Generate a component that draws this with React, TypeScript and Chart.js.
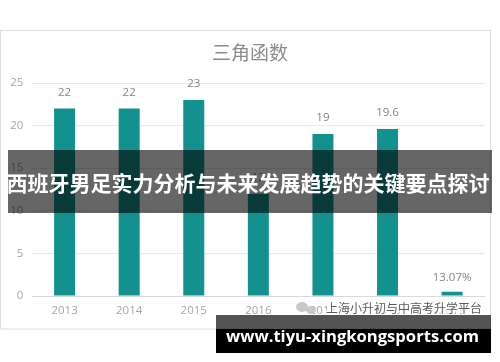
import React, { useEffect, useRef } from "react";
import { Chart, registerables } from "chart.js";

Chart.register(...registerables);

const categories = ["2013", "2014", "2015", "2016", "2017", "2018", "2019"];
const values = [22, 22, 23, 12, 19, 19.6, 0.5];
const valueLabels = ["22", "22", "23", "12", "19", "19.6", "13.07%"];
const yTicks = [0, 5, 10, 15, 20, 25];
const chartTitle = "三角函数";
const bannerText = "西班牙男足实力分析与未来发展趋势的关键要点探讨";
const watermarkText = "上海小升初与中高考升学平台";
const siteText = "www.tiyu-xingkongsports.com";

function fitFont(ctx: CanvasRenderingContext2D, text: string, weight: string, family: string, target: number) {
  ctx.font = `${weight} 20px ${family}`;
  const w = ctx.measureText(text).width;
  const size = (20 * target) / w;
  ctx.font = `${weight} ${size.toFixed(2)}px ${family}`;
}

const overlayPlugin = {
  id: "overlay",
  afterDatasetsDraw(chart: any) {
    const ctx = chart.ctx;
    const meta = chart.getDatasetMeta(0);
    ctx.save();
    ctx.fillStyle = "#858585";
    ctx.font = "11.5px 'Open Sans', 'Noto Sans', sans-serif";
    ctx.textAlign = "center";
    ctx.textBaseline = "middle";
    meta.data.forEach((bar: any, i: number) => {
      const off = i === meta.data.length - 1 ? 14 : 16;
      ctx.fillText(valueLabels[i], bar.x, bar.y - off);
    });
    ctx.restore();
  },
  afterDraw(chart: any) {
    const ctx = chart.ctx;
    ctx.save();
    // frame
    ctx.strokeStyle = "#dedede";
    ctx.lineWidth = 1;
    ctx.strokeRect(0.5, 30.5, 490, 298.5);
    // title
    ctx.fillStyle = "#8c8c8c";
    ctx.font = "19px 'Noto Sans CJK SC', sans-serif";
    ctx.textAlign = "center";
    ctx.textBaseline = "middle";
    ctx.fillText(chartTitle, 250, 53);
    // watermark
    ctx.fillStyle = "#c8c8c8";
    ctx.beginPath();
    ctx.ellipse(302, 307, 6, 5, 0, 0, Math.PI * 2);
    ctx.fill();
    ctx.beginPath();
    ctx.ellipse(311, 310, 5, 4, 0, 0, Math.PI * 2);
    ctx.fill();
    ctx.font = "12px 'Noto Sans CJK SC', sans-serif";
    ctx.textAlign = "left";
    ctx.lineWidth = 3;
    ctx.strokeStyle = "rgba(255,255,255,0.9)";
    ctx.strokeText(watermarkText, 326, 308);
    ctx.fillStyle = "#5a5a5a";
    ctx.fillText(watermarkText, 326, 308);
    // middle banner
    ctx.fillStyle = "rgba(0,0,0,0.6)";
    ctx.fillRect(8, 150, 484, 63);
    ctx.fillStyle = "#ffffff";
    ctx.font = "bold 21px 'Noto Sans CJK SC', sans-serif";
    ctx.textAlign = "center";
    ctx.textBaseline = "middle";
    ctx.fillText(bannerText, 248, 183);
    // bottom banner
    ctx.fillStyle = "rgba(0,0,0,0.67)";
    ctx.fillRect(216, 315, 275, 14);
    ctx.fillStyle = "#000000";
    ctx.fillRect(216, 329, 275, 24);
    ctx.fillStyle = "#ffffff";
    fitFont(ctx, siteText, "bold", "'Open Sans', 'DejaVu Sans', sans-serif", 253);
    ctx.textAlign = "center";
    ctx.textBaseline = "middle";
    ctx.fillText(siteText, 352.5, 337);
    ctx.restore();
  },
};

export default function App() {
  const ref = useRef<HTMLCanvasElement>(null);
  useEffect(() => {
    document.body.style.margin = "0";
    const chart = new Chart(ref.current as HTMLCanvasElement, {
      type: "bar",
      data: {
        labels: categories,
        datasets: [
          {
            data: values,
            backgroundColor: "#12918f",
            barPercentage: 0.325,
            categoryPercentage: 1,
          },
        ],
      },
      options: {
        animation: false,
        responsive: false,
        maintainAspectRatio: false,
        layout: { padding: { left: 0, right: 15.6, top: 83, bottom: 0 } },
        plugins: {
          legend: { display: false },
          title: { display: false },
          tooltip: { enabled: false },
        },
        scales: {
          x: {
            grid: { display: false, drawTicks: false },
            border: { color: "#d9d9d9" },
            ticks: {
              color: "#a6a6a6",
              font: { size: 11.5, family: "'Open Sans', 'Noto Sans', sans-serif" },
              padding: 8,
              maxRotation: 0,
            },
            afterFit(scale: any) {
              scale.height = 66;
            },
          },
          y: {
            min: 0,
            max: 25,
            afterBuildTicks(scale: any) {
              scale.ticks = yTicks.map((v) => ({ value: v }));
            },
            grid: { color: "#e8e8e8", drawTicks: false },
            border: { display: false },
            ticks: {
              color: "#a6a6a6",
              font: { size: 11.5, family: "'Open Sans', 'Noto Sans', sans-serif" },
              padding: 9,
            },
            afterFit(scale: any) {
              scale.width = 32.3;
            },
          },
        },
      },
      plugins: [overlayPlugin],
    });
    return () => chart.destroy();
  }, []);
  return (
    <div style={{ position: "absolute", left: 0, top: 0, width: 500, height: 362, background: "#fff" }}>
      <canvas ref={ref} width={500} height={362} style={{ width: 500, height: 362 }} />
    </div>
  );
}
